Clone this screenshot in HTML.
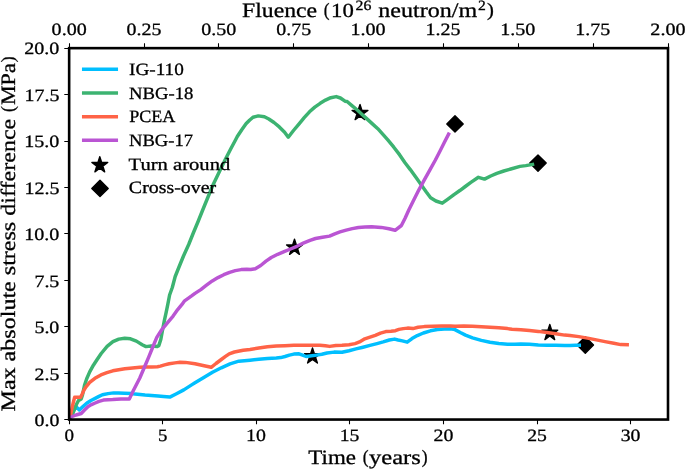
<!DOCTYPE html>
<html><head><meta charset="utf-8"><style>
html,body{margin:0;padding:0;background:#fff;overflow:hidden}
svg{display:block}
text{font-family:"Liberation Serif",serif}
</style></head><body>
<svg width="685" height="469" viewBox="0 0 685 469" style="will-change:transform">
<defs><clipPath id="ax"><rect x="69.15" y="48.15" width="598.85" height="371.40000000000003"/></clipPath></defs>
<rect x="0" y="0" width="685" height="469" fill="#fff"/>
<path d="M294.50,239.27 L292.63,245.03 L286.58,245.03 L291.47,248.58 L289.60,254.34 L294.50,250.78 L299.40,254.34 L297.53,248.58 L302.42,245.03 L296.37,245.03Z" fill="#000" stroke="#000" stroke-width="1.39" stroke-linejoin="round"/>
<path d="M360.00,104.57 L358.13,110.33 L352.08,110.33 L356.97,113.88 L355.10,119.64 L360.00,116.08 L364.90,119.64 L363.03,113.88 L367.92,110.33 L361.87,110.33Z" fill="#000" stroke="#000" stroke-width="1.39" stroke-linejoin="round"/>
<path d="M312.50,347.97 L310.63,353.73 L304.58,353.73 L309.47,357.28 L307.60,363.04 L312.50,359.48 L317.40,363.04 L315.53,357.28 L320.42,353.73 L314.37,353.73Z" fill="#000" stroke="#000" stroke-width="1.39" stroke-linejoin="round"/>
<path d="M549.80,324.52 L547.93,330.28 L541.88,330.28 L546.77,333.83 L544.90,339.59 L549.80,336.03 L554.70,339.59 L552.83,333.83 L557.72,330.28 L551.67,330.28Z" fill="#000" stroke="#000" stroke-width="1.39" stroke-linejoin="round"/>
<path d="M455.00,115.70 L463.20,123.90 L455.00,132.10 L446.80,123.90Z" fill="#000" stroke="#000" stroke-width="1.39" stroke-linejoin="round"/>
<path d="M538.00,154.90 L546.20,163.10 L538.00,171.30 L529.80,163.10Z" fill="#000" stroke="#000" stroke-width="1.39" stroke-linejoin="round"/>
<path d="M585.30,336.80 L593.50,345.00 L585.30,353.20 L577.10,345.00Z" fill="#000" stroke="#000" stroke-width="1.39" stroke-linejoin="round"/>
<g clip-path="url(#ax)" fill="none" stroke-width="3.47" stroke-linejoin="round" stroke-linecap="square">
<path d="M69.50,419.30 L72.50,413.00 L75.90,406.50 L79.40,410.00 L82.40,407.10 L87.00,403.00 L91.00,400.50 L95.20,398.40 L99.00,396.40 L102.40,394.80 L108.00,393.60 L113.60,392.90 L118.50,393.00 L124.40,393.20 L131.40,393.60 L135.00,394.10 L140.00,394.60 L145.00,395.10 L151.50,395.60 L158.10,396.10 L163.50,396.60 L169.80,397.10 L176.00,394.00 L183.80,389.90 L192.00,384.60 L195.00,382.70 L203.80,377.40 L212.50,372.20 L221.30,367.80 L230.00,363.80 L238.80,361.20 L250.00,360.20 L258.80,359.30 L267.50,358.50 L276.30,358.00 L280.70,357.60 L285.00,356.50 L289.40,355.10 L293.80,354.10 L299.00,353.80 L302.60,355.10 L306.10,356.50 L310.00,356.00 L316.50,355.10 L321.80,354.30 L327.00,353.00 L334.00,352.10 L342.00,352.30 L349.00,350.70 L356.00,348.90 L363.00,347.20 L370.00,345.40 L377.00,343.60 L383.20,341.90 L389.30,340.00 L394.60,339.10 L398.10,340.00 L402.40,340.90 L407.20,342.20 L412.00,338.60 L417.30,335.60 L423.40,333.00 L430.40,330.80 L437.40,329.50 L444.40,329.00 L450.60,328.80 L454.90,329.60 L460.30,332.50 L465.50,335.10 L472.50,337.80 L481.30,340.40 L490.00,342.20 L498.80,343.50 L507.60,344.20 L515.00,344.30 L520.80,343.90 L529.50,344.30 L538.30,345.10 L547.00,345.30 L555.80,345.20 L564.60,345.60 L570.00,345.50 L575.30,345.20 L579.30,345.20" stroke="#00bfff"/>
<path d="M69.50,419.30 L73.00,413.10 L75.50,406.50 L76.50,404.20 L78.50,400.50 L81.20,398.90 L82.50,395.00 L84.50,385.40 L86.70,378.70 L89.70,371.90 L93.40,365.20 L96.80,360.00 L101.20,353.50 L107.10,346.40 L112.90,341.70 L118.80,339.10 L124.70,338.20 L130.50,338.80 L136.40,341.10 L142.20,344.70 L146.00,346.60 L151.10,346.00 L157.30,346.40 L158.80,345.60 L160.80,339.50 L162.50,330.20 L164.30,320.80 L166.10,312.60 L167.80,304.40 L169.60,295.00 L172.30,287.50 L175.20,276.50 L179.40,266.00 L183.50,256.00 L188.70,244.50 L193.50,232.50 L198.10,221.50 L202.50,210.50 L207.40,198.50 L213.20,184.50 L219.10,172.20 L224.90,160.30 L230.80,148.80 L235.50,140.00 L237.30,136.50 L241.60,130.00 L246.00,123.80 L249.50,120.30 L253.00,117.30 L258.30,115.90 L264.40,116.80 L268.80,119.00 L274.00,122.50 L279.30,126.90 L284.60,132.20 L288.30,137.20 L293.50,130.50 L298.90,124.10 L304.20,117.70 L309.50,111.80 L314.80,107.10 L320.20,103.30 L325.50,100.10 L330.80,97.70 L336.20,96.60 L340.40,98.00 L345.00,101.20 L347.10,101.50 L352.20,105.80 L357.30,110.00 L362.40,114.70 L367.50,119.40 L372.70,124.10 L377.80,128.70 L381.80,133.10 L387.80,139.90 L393.80,147.20 L399.70,154.90 L405.00,162.70 L410.30,169.60 L415.70,177.10 L421.00,184.50 L426.30,192.00 L430.60,197.80 L435.90,201.00 L442.30,203.20 L447.60,199.40 L454.00,194.60 L460.20,190.30 L465.30,186.50 L470.50,182.60 L478.40,177.30 L484.50,179.10 L490.70,176.00 L496.80,173.40 L503.80,171.00 L510.80,169.00 L520.00,166.40 L525.70,165.60 L532.50,164.40" stroke="#3cb371"/>
<path d="M69.50,419.30 L71.00,413.00 L72.70,405.00 L74.60,397.30 L80.60,397.20 L82.20,394.00 L84.00,390.00 L86.00,386.90 L89.70,382.40 L94.90,378.30 L100.90,374.90 L106.90,372.70 L112.80,370.80 L118.80,369.70 L124.80,368.80 L130.00,368.30 L135.00,367.80 L140.00,367.30 L145.80,367.00 L151.70,366.90 L157.50,366.70 L160.40,366.10 L164.50,364.90 L169.20,363.80 L175.00,362.90 L180.00,362.30 L185.40,362.40 L195.00,363.80 L203.00,365.50 L211.20,367.30 L216.00,363.50 L221.30,359.50 L225.50,356.40 L229.20,353.80 L234.40,352.00 L243.20,350.30 L250.00,349.50 L258.80,348.00 L267.50,346.80 L276.30,346.10 L285.00,345.70 L293.80,345.30 L302.60,345.20 L310.00,345.20 L311.30,345.30 L320.00,345.30 L325.30,345.70 L329.70,346.40 L335.80,345.50 L342.00,345.20 L349.00,344.70 L355.10,343.60 L359.50,341.90 L364.80,338.80 L370.00,337.10 L375.30,335.30 L380.50,333.10 L385.80,331.60 L391.00,331.20 L395.40,330.70 L398.90,329.40 L403.30,328.60 L407.60,328.10 L412.90,328.60 L418.10,327.30 L424.30,326.60 L433.00,326.20 L441.80,325.90 L450.60,325.90 L455.00,326.20 L463.80,325.90 L472.50,326.20 L481.30,326.80 L490.00,327.30 L498.80,327.70 L507.60,328.60 L512.00,329.20 L520.80,329.80 L529.50,330.50 L538.30,331.40 L547.00,332.50 L555.80,333.80 L564.60,335.10 L570.00,335.50 L578.80,336.60 L587.50,338.10 L596.30,339.90 L605.00,341.60 L613.80,343.20 L620.80,344.60 L627.20,344.70" stroke="#ff6347"/>
<path d="M69.50,419.30 L71.00,417.00 L76.00,415.00 L81.20,413.50 L84.50,410.00 L88.20,406.50 L91.50,404.60 L95.20,403.00 L99.00,401.40 L103.40,400.10 L108.00,399.70 L112.70,399.50 L120.90,398.90 L129.30,398.90 L133.50,390.20 L139.80,378.00 L144.50,367.00 L148.80,356.80 L153.00,346.50 L156.80,337.40 L161.40,330.20 L167.20,323.10 L173.10,316.10 L177.70,309.60 L182.00,304.40 L184.60,300.80 L191.60,295.90 L195.00,293.40 L200.80,289.60 L206.50,285.20 L212.30,280.90 L218.00,277.60 L223.80,274.70 L229.60,272.30 L235.30,270.60 L241.10,269.60 L246.80,269.20 L250.70,269.50 L255.30,268.70 L260.70,265.50 L266.00,261.20 L271.30,257.50 L277.70,254.30 L284.10,251.60 L290.50,249.00 L296.90,246.30 L303.30,243.10 L310.00,240.30 L315.50,238.50 L322.50,237.20 L329.50,236.10 L334.80,233.80 L340.00,231.90 L346.20,230.10 L352.30,228.60 L358.40,227.50 L365.00,227.10 L371.60,226.70 L381.20,227.40 L388.90,228.80 L395.10,230.30 L401.40,225.50 L405.20,218.00 L408.80,210.00 L413.50,200.50 L418.90,189.80 L424.20,180.20 L429.50,170.70 L435.40,160.00 L440.30,150.50 L444.80,141.50 L448.60,134.20" stroke="#ba55d3"/>
</g>
<rect x="69.15" y="48.15" width="598.85" height="371.40" fill="none" stroke="#000" stroke-width="2.6" stroke-linejoin="miter"/>
<path d="M69.50,419.55 V424.3 M162.50,419.55 V424.3 M256.50,419.55 V424.3 M349.50,419.55 V424.3 M443.50,419.55 V424.3 M537.50,419.55 V424.3 M630.50,419.55 V424.3 M69.50,48.15 V43.3 M144.50,48.15 V43.3 M218.50,48.15 V43.3 M293.50,48.15 V43.3 M368.50,48.15 V43.3 M443.50,48.15 V43.3 M518.50,48.15 V43.3 M593.50,48.15 V43.3 M668.50,48.15 V43.3 M69.15,419.50 H64.3 M69.15,373.50 H64.3 M69.15,326.50 H64.3 M69.15,280.50 H64.3 M69.15,233.50 H64.3 M69.15,187.50 H64.3 M69.15,141.50 H64.3 M69.15,94.50 H64.3 M69.15,48.50 H64.3" stroke="#000" stroke-width="1.07" fill="none"/>
<g fill="#000" stroke="#000" stroke-width="0.3" text-rendering="geometricPrecision" font-family="Liberation Serif, serif">
<text x="64.50" y="441.00" font-size="17.3" textLength="9.51" lengthAdjust="spacingAndGlyphs">0</text>
<text x="157.94" y="441.00" font-size="17.3" textLength="9.41" lengthAdjust="spacingAndGlyphs">5</text>
<text x="245.97" y="441.00" font-size="17.3" textLength="19.84" lengthAdjust="spacingAndGlyphs">10</text>
<text x="339.65" y="441.00" font-size="17.3" textLength="19.67" lengthAdjust="spacingAndGlyphs">15</text>
<text x="433.55" y="441.00" font-size="17.3" textLength="19.83" lengthAdjust="spacingAndGlyphs">20</text>
<text x="527.22" y="441.00" font-size="17.3" textLength="19.66" lengthAdjust="spacingAndGlyphs">25</text>
<text x="620.68" y="441.00" font-size="17.3" textLength="19.78" lengthAdjust="spacingAndGlyphs">30</text>
<text x="51.64" y="35.00" font-size="17.3" textLength="35.03" lengthAdjust="spacingAndGlyphs">0.00</text>
<text x="126.59" y="35.00" font-size="17.3" textLength="34.86" lengthAdjust="spacingAndGlyphs">0.25</text>
<text x="201.35" y="35.00" font-size="17.3" textLength="35.03" lengthAdjust="spacingAndGlyphs">0.50</text>
<text x="276.30" y="35.00" font-size="17.3" textLength="34.86" lengthAdjust="spacingAndGlyphs">0.75</text>
<text x="350.50" y="35.00" font-size="17.3" textLength="35.14" lengthAdjust="spacingAndGlyphs">1.00</text>
<text x="425.46" y="35.00" font-size="17.3" textLength="34.97" lengthAdjust="spacingAndGlyphs">1.25</text>
<text x="500.22" y="35.00" font-size="17.3" textLength="35.14" lengthAdjust="spacingAndGlyphs">1.50</text>
<text x="575.17" y="35.00" font-size="17.3" textLength="34.97" lengthAdjust="spacingAndGlyphs">1.75</text>
<text x="650.38" y="35.00" font-size="17.3" textLength="35.12" lengthAdjust="spacingAndGlyphs">2.00</text>
<text x="34.52" y="426.00" font-size="17.3" textLength="24.84" lengthAdjust="spacingAndGlyphs">0.0</text>
<text x="34.61" y="380.00" font-size="17.3" textLength="24.76" lengthAdjust="spacingAndGlyphs">2.5</text>
<text x="34.42" y="333.00" font-size="17.3" textLength="24.94" lengthAdjust="spacingAndGlyphs">5.0</text>
<text x="34.42" y="287.00" font-size="17.3" textLength="24.96" lengthAdjust="spacingAndGlyphs">7.5</text>
<text x="24.23" y="240.00" font-size="17.3" textLength="35.14" lengthAdjust="spacingAndGlyphs">10.0</text>
<text x="24.41" y="194.00" font-size="17.3" textLength="34.97" lengthAdjust="spacingAndGlyphs">12.5</text>
<text x="24.23" y="147.00" font-size="17.3" textLength="35.14" lengthAdjust="spacingAndGlyphs">15.0</text>
<text x="24.41" y="101.00" font-size="17.3" textLength="34.97" lengthAdjust="spacingAndGlyphs">17.5</text>
<text x="24.25" y="54.00" font-size="17.3" textLength="35.12" lengthAdjust="spacingAndGlyphs">20.0</text>
<text x="308.39" y="464.00" font-size="20.5" textLength="47.57" lengthAdjust="spacingAndGlyphs">Time</text>
<text x="362.78" y="463.00" font-size="18.85" textLength="5.84" lengthAdjust="spacingAndGlyphs">(</text>
<text x="369.04" y="464.00" font-size="20.5" textLength="51.83" lengthAdjust="spacingAndGlyphs">years</text>
<text x="421.73" y="463.00" font-size="18.85" textLength="5.84" lengthAdjust="spacingAndGlyphs">)</text>
<g transform="translate(14.7,410.8) rotate(-90)">
<text x="-0.70" y="0.00" font-size="20.5" textLength="292.76" lengthAdjust="spacingAndGlyphs">Max absolute stress difference</text>
<text x="298.85" y="-1.00" font-size="18.85" textLength="5.85" lengthAdjust="spacingAndGlyphs">(</text>
<text x="305.78" y="0.00" font-size="20.5" textLength="41.76" lengthAdjust="spacingAndGlyphs">MPa</text>
<text x="348.53" y="-1.00" font-size="18.85" textLength="5.85" lengthAdjust="spacingAndGlyphs">)</text>
</g>
<text x="242.01" y="17.00" font-size="20.5" textLength="75.09" lengthAdjust="spacingAndGlyphs">Fluence</text>
<text x="323.84" y="16.00" font-size="18.85" textLength="5.81" lengthAdjust="spacingAndGlyphs">(</text>
<text x="331.14" y="17.00" font-size="20.0" textLength="22.76" lengthAdjust="spacingAndGlyphs" font-family="Liberation Sans, sans-serif">10</text>
<text x="355.49" y="10.00" font-size="14.2" textLength="15.84" lengthAdjust="spacingAndGlyphs" font-family="Liberation Sans, sans-serif">26</text>
<text x="378.35" y="17.00" font-size="20.5" textLength="98.72" lengthAdjust="spacingAndGlyphs">neutron/m</text>
<text x="478.10" y="10.00" font-size="14.2" textLength="7.81" lengthAdjust="spacingAndGlyphs" font-family="Liberation Sans, sans-serif">2</text>
<text x="487.14" y="16.00" font-size="18.85" textLength="6.87" lengthAdjust="spacingAndGlyphs">)</text>
</g>
<g fill="none" stroke-width="3.47" stroke-linecap="square">
<path d="M83.7,69.30 H116.3" stroke="#00bfff"/>
<path d="M83.7,92.97 H116.3" stroke="#3cb371"/>
<path d="M83.7,116.64 H116.3" stroke="#ff6347"/>
<path d="M83.7,140.31 H116.3" stroke="#ba55d3"/>
</g>
<path d="M99.80,156.77 L97.93,162.53 L91.88,162.53 L96.77,166.08 L94.90,171.84 L99.80,168.28 L104.70,171.84 L102.83,166.08 L107.72,162.53 L101.67,162.53Z" fill="#000" stroke="#000" stroke-width="1.39" stroke-linejoin="round"/>
<path d="M100.00,180.20 L108.20,188.40 L100.00,196.60 L91.80,188.40Z" fill="#000" stroke="#000" stroke-width="1.39" stroke-linejoin="round"/>
<g fill="#000" stroke="#000" stroke-width="0.3" text-rendering="geometricPrecision" font-family="Liberation Serif, serif">
<text x="128.99" y="75.00" font-size="17.3" textLength="54.83" lengthAdjust="spacingAndGlyphs">IG-110</text>
<text x="129.04" y="99.00" font-size="17.3" textLength="64.30" lengthAdjust="spacingAndGlyphs">NBG-18</text>
<text x="129.16" y="122.00" font-size="17.3" textLength="46.17" lengthAdjust="spacingAndGlyphs">PCEA</text>
<text x="129.04" y="146.00" font-size="17.3" textLength="64.05" lengthAdjust="spacingAndGlyphs">NBG-17</text>
<text x="128.59" y="170.00" font-size="17.3" textLength="101.66" lengthAdjust="spacingAndGlyphs">Turn around</text>
<text x="128.88" y="193.00" font-size="17.3" textLength="87.24" lengthAdjust="spacingAndGlyphs">Cross-over</text>
</g>
</svg>
</body></html>
